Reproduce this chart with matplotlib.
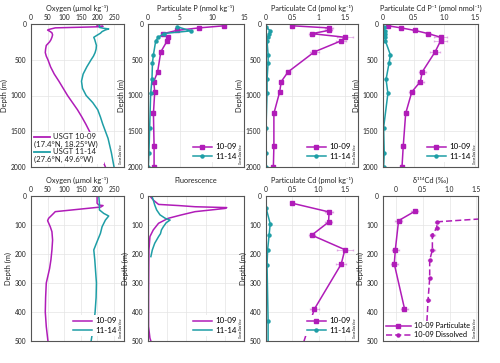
import matplotlib
matplotlib.use("Agg")
import matplotlib.pyplot as plt
from matplotlib.patches import Rectangle

plt.rcParams['font.family'] = ['Lato', 'DejaVu Sans']

MAG = "#b01cb8"
TEAL = "#1e9ea6"
INK = "#222222"

# CTD oxygen (umol/kg)
ox_depth_1009 = [0, 25, 31, 33, 38, 54, 60, 77, 85, 106, 123, 152, 186, 220, 250,
                 300, 350, 400, 450, 500, 600, 700, 800, 900, 1000, 1100, 1200,
                 1300, 1400, 1500, 1600, 1700, 1800, 1900, 2000]
ox_1009 = [199, 199, 204, 217, 210, 73, 68, 53, 50, 58, 63, 65, 63, 60, 56,
           46, 44, 43, 46, 51, 59, 70, 84, 97, 110, 125, 140,
           153, 165, 176, 186, 196, 206, 215, 224]
ox_depth_1114 = [0, 25, 48, 60, 69, 83, 106, 129, 157, 186, 220, 300, 350, 400,
                 450, 500, 600, 700, 800, 900, 1000, 1100, 1200, 1300, 1400,
                 1500, 1600, 1700, 1800, 1900, 2000]
ox_1114 = [204, 206, 206, 219, 234, 224, 214, 209, 199, 189, 192, 197, 196, 193,
           188, 181, 168, 157, 152, 155, 166, 186, 201, 209, 216,
           224, 232, 237, 242, 246, 250]

# fluorescence (relative units)
fl_depth_1009 = [0, 14, 29, 33, 37, 40, 43, 48, 54, 65, 77, 94, 117, 140, 186,
                 250, 350, 450, 490, 500]
fl_1009 = [0.02, 0.055, 0.11, 0.32, 0.49, 0.82, 0.80, 0.66, 0.49, 0.35, 0.21,
           0.11, 0.055, 0.02, 0.01, 0.008, 0.006, 0.006, 0.02, 0.03]
fl_depth_1114 = [0, 14, 31, 48, 65, 77, 83, 92, 106, 117, 130, 140, 163, 186, 209]
fl_1114 = [0.04, 0.055, 0.07, 0.09, 0.125, 0.18, 0.23, 0.19, 0.16, 0.14, 0.13,
           0.11, 0.07, 0.045, 0.03]

# bottle samples, station 10-09
depth_1009 = [25, 55, 90, 135, 185, 235, 390, 670, 805, 950, 1250, 1710, 2000]
p_1009 = [11.9, 7.9, 4.5, 2.4, 3.1, 3.0, 2.0, 1.5, 0.9, 1.05, 0.85, 0.95, 0.95]
cd_1009 = [0.50, 1.20, 1.19, 0.87, 1.50, 1.43, 0.92, 0.42, 0.29, 0.26, 0.15, 0.15, 0.14]
cd_err_1009 = [0.02, 0.08, 0.07, 0.06, 0.15, 0.10, 0.08, 0.03, 0.02, 0.02, 0.02, 0.02, 0.02]
cdp_1009 = [0.08, 0.30, 0.52, 0.74, 0.94, 0.94, 0.85, 0.64, 0.61, 0.47, 0.37, 0.33, 0.31]
cdp_err_1009 = [0.01, 0.02, 0.03, 0.04, 0.10, 0.10, 0.08, 0.06, 0.06, 0.04, 0.03, 0.03, 0.02]

# bottle samples, station 11-14
depth_1114 = [40, 96, 133, 187, 239, 430, 540, 775, 970, 1450, 1800, 2000]
p_1114 = [4.6, 6.7, 2.5, 1.6, 1.2, 0.85, 0.7, 0.62, 0.42, 0.26, 0.15, 0.05]
cd_1114 = [0.0, 0.08, 0.06, 0.03, 0.02, 0.04, 0.04, 0.02, 0.02, 0.0, 0.0, 0.0]
cdp_1114 = [0.01, 0.03, 0.04, 0.04, 0.04, 0.12, 0.10, 0.05, 0.08, 0.01, 0.02, 0.01]

# d114Cd, station 10-09
dpart_depth = [53, 85, 185, 234, 388]
dpart = [0.35, 0.05, -0.01, -0.03, 0.16]
dpart_err = [0.07, 0.06, 0.06, 0.07, 0.07]
ddis_depth = [75, 89, 110, 133, 186, 221, 284, 357, 600]
ddis = [1.9, 0.77, 0.76, 0.68, 0.68, 0.63, 0.63, 0.60, 0.53]
ddis_err = [0.04, 0.04, 0.04, 0.04, 0.04, 0.03, 0.03, 0.03, 0.03]

W, H = 500, 363
fig = plt.figure(figsize=(W / 100, H / 100), dpi=100)

cols = [(31, 124), (148, 244), (266, 358), (383, 478)]
rows = [(24, 167), (196, 341)]

LEG = dict(fontsize=5.8, frameon=True, framealpha=1, edgecolor='none',
           handlelength=2.4, handletextpad=0.4, labelspacing=0.3,
           borderpad=0.3, borderaxespad=0.6)


def make_ax(c, r):
    x0, x1 = cols[c]
    y0, y1 = rows[r]
    return fig.add_axes([x0 / W, 1 - y1 / H, (x1 - x0) / W, (y1 - y0) / H])


def style(ax, xlim, xticks, xlabels, ymax, ystep, title):
    ax.set_xlim(*xlim)
    ax.set_ylim(ymax, 0)
    ax.set_xticks(xticks)
    ax.set_xticklabels(xlabels)
    ax.set_yticks(range(0, ymax + 1, ystep))
    ax.xaxis.tick_top()
    ax.tick_params(length=0, labelsize=4.8, colors=INK)
    ax.tick_params(axis='y', pad=3.5)
    ax.tick_params(axis='x', pad=2.5)
    ax.grid(color='#e4e4e4', lw=0.5)
    ax.set_axisbelow(True)
    for s in ax.spines.values():
        s.set_color('#555555')
        s.set_linewidth(0.8)
    ax.set_ylabel('Depth (m)', fontsize=5.4, labelpad=2, color=INK)
    ax.annotate(title, xy=(0.5, 1), xycoords='axes fraction', xytext=(0, 11.5),
                textcoords='offset points', ha='center', va='center',
                fontsize=5.3, color=INK)
    ax.text(0.99, 0.02, 'Ocean Data View', rotation=90, fontsize=1.8,
            transform=ax.transAxes, ha='right', va='bottom', zorder=6)


def bottles(ax, x1, d1, x2, d2, err1=None):
    if err1 is not None:
        ax.errorbar(x1, d1, xerr=err1, fmt='none', ecolor=MAG, alpha=0.3,
                    elinewidth=0.7, capsize=1)
    ax.plot(x1, d1, color=MAG, lw=1.1, marker='s', ms=2.2, label='10-09')
    ax.plot(x2, d2, color=TEAL, lw=1.1, marker='o', ms=2.2, label='11-14')
    ax.legend(loc='lower right', **LEG)


ox_ticks = [0, 50, 100, 150, 200, 250]
ox_title = 'Oxygen (µmol kg⁻¹)'
cd_title = 'Particulate Cd (pmol kg⁻¹)'

# --- top row ---
ax = make_ax(0, 0)
ax.plot(ox_1009, ox_depth_1009, color=MAG, lw=1.1)
ax.plot(ox_1114, ox_depth_1114, color=TEAL, lw=1.1)
style(ax, (0, 280), ox_ticks, [str(t) for t in ox_ticks], 2000, 500, ox_title)
ax.add_patch(Rectangle((0.01, 0.02), 0.77, 0.222, transform=ax.transAxes,
                       facecolor='white', edgecolor='none', zorder=3))
for yy, col in [(0.212, MAG), (0.105, TEAL)]:
    ax.plot([0.03, 0.2], [yy, yy], color=col, lw=1.3, transform=ax.transAxes,
            zorder=4)
leg_txt = [(0.235, 0.212, 'USGT 10-09'), (0.03, 0.158, '(17.4°N, 18.25°W)'),
           (0.235, 0.105, 'USGT 11-14'), (0.03, 0.05, '(27.6°N, 49.6°W)')]
for xx, yy, t in leg_txt:
    ax.text(xx, yy, t, transform=ax.transAxes, fontsize=5.6, va='center',
            ha='left', zorder=5, color=INK)

ax = make_ax(1, 0)
bottles(ax, p_1009, depth_1009, p_1114, depth_1114)
style(ax, (0, 15), [0, 5, 10, 15], ['0', '5', '10', '15'], 2000, 500,
      'Particulate P (nmol kg⁻¹)')

ax = make_ax(2, 0)
bottles(ax, cd_1009, depth_1009, cd_1114, depth_1114, err1=cd_err_1009)
style(ax, (0, 1.75), [0, 0.5, 1, 1.5], ['0', '0.5', '1', '1.5'], 2000, 500,
      cd_title)

ax = make_ax(3, 0)
bottles(ax, cdp_1009, depth_1009, cdp_1114, depth_1114, err1=cdp_err_1009)
style(ax, (0, 1.55), [0, 0.5, 1, 1.5], ['0', '0.5', '1.0', '1.5'], 2000, 500,
      'Particulate Cd P⁻¹ (pmol nmol⁻¹)')

# --- bottom row (upper 500 m) ---
ax = make_ax(0, 1)
ax.plot(ox_1009, ox_depth_1009, color=MAG, lw=1.1, label='10-09')
ax.plot(ox_1114, ox_depth_1114, color=TEAL, lw=1.1, label='11-14')
ax.legend(loc='lower right', **LEG)
style(ax, (0, 280), ox_ticks, [str(t) for t in ox_ticks], 500, 100, ox_title)

ax = make_ax(1, 1)
ax.plot(fl_1009, fl_depth_1009, color=MAG, lw=1.1, label='10-09')
ax.plot(fl_1114, fl_depth_1114, color=TEAL, lw=1.1, label='11-14')
ax.legend(loc='lower right', **LEG)
style(ax, (0, 1), [0, 0.2, 0.4, 0.6, 0.8, 1.0], [''] * 6, 500, 100,
      'Fluorescence')

ax = make_ax(2, 1)
bottles(ax, cd_1009, depth_1009, cd_1114, depth_1114, err1=cd_err_1009)
style(ax, (0, 1.75), [0, 0.5, 1, 1.5], ['0', '0.5', '1.0', '1.5'], 500, 100,
      cd_title)

ax = make_ax(3, 1)
ax.errorbar(dpart, dpart_depth, xerr=dpart_err, fmt='none', ecolor=MAG,
            alpha=0.3, elinewidth=0.7, capsize=1)
ax.errorbar(ddis, ddis_depth, xerr=ddis_err, fmt='none', ecolor=MAG,
            alpha=0.3, elinewidth=0.7, capsize=1)
ax.plot(dpart, dpart_depth, color=MAG, lw=1.1, marker='s', ms=2.2,
        label='10-09 Particulate')
ax.plot(ddis, ddis_depth, color=MAG, lw=1.1, ls=(0, (4, 2)), marker='o', ms=2.2,
        label='10-09 Dissolved')
ax.legend(loc='lower left', fontsize=5.3, frameon=True, framealpha=1,
          edgecolor='none', handlelength=3.4, handletextpad=0.4,
          labelspacing=0.3, borderpad=0.2, borderaxespad=0.15)
style(ax, (-0.24, 1.53), [0, 0.5, 1, 1.5], ['0', '0.5', '1.0', '1.5'], 500,
      100, 'δ¹¹⁴Cd (‰)')

fig.savefig('out.png', dpi=100)
